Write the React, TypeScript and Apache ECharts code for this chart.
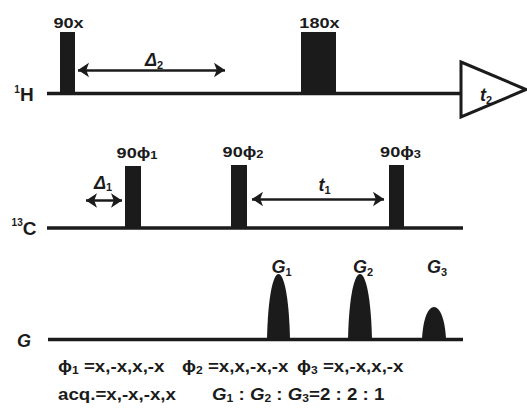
import React, { useEffect, useRef } from 'react';
import * as echarts from 'echarts';

// ---- data (time along x, level along y, in the diagram's own units) ----
const channelNames = ['{p|1}{b|H}', '{p|13}{b|C}', '{i|G}'];
const channelLevel = [93.5, 228, 339.5];
const channelStart = [47, 47, 48];
const channelEnd = [461, 463, 463];

const pulseChannel = [0, 0, 1, 1, 1];
const pulseStart = [60, 301, 125, 231, 389];
const pulseEnd = [75, 336, 141, 247, 404];
const pulseTop = [32, 32, 166, 165, 165];
const pulseLabels = ['{b|90x}', '{b|180x}', '{b|90ϕ}{s|1}', '{b|90ϕ}{s|2}', '{b|90ϕ}{s|3}'];

const gradStart = [267, 348, 422];
const gradEnd = [290, 372, 446];
const gradPeak = [274, 274, 307];
const gradLabels = ['{i|G}{s|1}', '{i|G}{s|2}', '{i|G}{s|3}'];

const delayFrom = [78, 86, 252];
const delayTo = [225, 122, 384];
const delayLevel = [70, 200.5, 199];
const delayLabels = ['{i|Δ}{s|2}', '{i|Δ}{s|1}', '{i|t}{s|1}'];

const acqStart = 461;
const acqEnd = 526;
const acqTop = 62;
const acqBottom = 117;
const acqLabel = '{i|t}{s|2}';

const phaseTexts = [
  '{b|ϕ}{s|1}{b| =x,-x,x,-x}',
  '{b|ϕ}{s|2}{b| =x,x,-x,-x}',
  '{b|ϕ}{s|3}{b| =x,-x,x,-x}',
  '{b|acq.=x,-x,-x,x}',
  '{i|G}{s|1}{b| : }{i|G}{s|2}{b| : }{i|G}{s|3}{b|=2 : 2 : 1}',
];
const phaseX = [58, 182, 297, 58, 212];
const phaseY = [366, 366, 366, 394, 394];

const INK = '#1b1b1b';
const FONT = '"Liberation Sans", Arial, Helvetica, sans-serif';

function rich(size: number, subRatio: number) {
  const sub = Math.round(size * subRatio);
  return {
    b: { fontSize: size, fontWeight: 'bold', fontFamily: FONT, fill: INK, color: INK, lineHeight: size + 2 },
    i: { fontSize: size, fontWeight: 'bold', fontStyle: 'italic', fontFamily: FONT, fill: INK, color: INK, lineHeight: size + 2 },
    s: { fontSize: sub, fontWeight: 'bold', fontFamily: FONT, fill: INK, color: INK, lineHeight: sub, verticalAlign: 'bottom' },
    p: { fontSize: sub, fontWeight: 'bold', fontFamily: FONT, fill: INK, color: INK, lineHeight: sub, verticalAlign: 'top' },
  };
}

function textEl(x: number, y: number, text: string, size: number, align: string, sx: number, subRatio = 0.62) {
  return {
    type: 'text',
    x,
    y,
    scaleX: sx,
    style: {
      text,
      rich: rich(size, subRatio),
      align,
      verticalAlign: 'middle',
      fill: INK,
      font: `bold ${size}px ${FONT}`,
    },
  };
}

// label nudges relative to the marks they annotate (layout only)
const channelLabelSize = [19, 19, 18];
const channelLabelDy = [1, 0, 1.5];
const delayLabelDx = [2.5, -1, 6.5];
const delayLabelDy = [-10, -18, -14];

export default function App() {
  const ref = useRef<HTMLDivElement>(null);
  useEffect(() => {
    if (!ref.current) return;
    const chart = echarts.init(ref.current, undefined, { renderer: 'svg' });
    const option: any = {
      animation: false,
      backgroundColor: '#ffffff',
      grid: { left: 0, right: 0, top: 0, bottom: 0 },
      xAxis: { type: 'value', min: 0, max: 527, show: false },
      yAxis: { type: 'value', min: 0, max: 409, inverse: true, show: false },
      series: [
        {
          type: 'custom',
          name: 'channels',
          clip: false,
          data: channelLevel.map((l, i) => [channelStart[i], l, channelEnd[i]]),
          renderItem: (params: any, api: any) => {
            const i = params.dataIndex;
            const a = api.coord([api.value(0), api.value(1)]);
            const b = api.coord([api.value(2), api.value(1)]);
            return {
              type: 'group',
              children: [
                { type: 'line', shape: { x1: a[0], y1: a[1], x2: b[0], y2: b[1] }, style: { stroke: INK, lineWidth: 3.6 } },
                textEl(24, a[1] + channelLabelDy[i], channelNames[i], channelLabelSize[i], 'center', 1, 0.55),
              ],
            };
          },
        },
        {
          type: 'custom',
          name: 'pulses',
          clip: false,
          data: pulseStart.map((s, i) => [s, pulseTop[i], pulseEnd[i], channelLevel[pulseChannel[i]]]),
          renderItem: (params: any, api: any) => {
            const tl = api.coord([api.value(0), api.value(1)]);
            const br = api.coord([api.value(2), api.value(3)]);
            const cx = (tl[0] + br[0]) / 2;
            const hasSub = params.dataIndex >= 2;
            return {
              type: 'group',
              children: [
                { type: 'rect', shape: { x: tl[0], y: tl[1], width: br[0] - tl[0], height: br[1] - tl[1] }, style: { fill: INK } },
                textEl(cx + (hasSub ? 4 : 1), tl[1] - (hasSub ? 13.5 : 9.5), pulseLabels[params.dataIndex], 15.5, 'center', 1.17, 0.68),
              ],
            };
          },
        },
        {
          type: 'custom',
          name: 'gradients',
          clip: false,
          data: gradStart.map((s, i) => [s, gradPeak[i], gradEnd[i], channelLevel[2]]),
          renderItem: (params: any, api: any) => {
            const p0 = api.coord([api.value(0), api.value(3)]);
            const p1 = api.coord([api.value(2), api.value(3)]);
            const pk = api.coord([api.value(0), api.value(1)]);
            const w = p1[0] - p0[0];
            const cy = p0[1] - (p0[1] - pk[1]) * 4 / 3;
            const d = `M${p0[0]},${p0[1]} C${p0[0] + 0.08 * w},${cy} ${p1[0] - 0.08 * w},${cy} ${p1[0]},${p1[1]} Z`;
            return {
              type: 'group',
              children: [
                { type: 'path', shape: { pathData: d }, style: { fill: INK } },
                textEl(p0[0] + w / 2 + 3, 267, gradLabels[params.dataIndex], 18, 'center', 1),
              ],
            };
          },
        },
        {
          type: 'lines',
          name: 'delays',
          coordinateSystem: 'cartesian2d',
          symbol: ['arrow', 'arrow'],
          symbolSize: 11,
          lineStyle: { color: INK, width: 2.6, opacity: 1 },
          data: delayFrom.map((f, i) => ({ coords: [[f, delayLevel[i]], [delayTo[i], delayLevel[i]]] })),
          silent: true,
        },
        {
          type: 'custom',
          name: 'delayLabels',
          clip: false,
          data: delayFrom.map((f, i) => [(f + delayTo[i]) / 2, delayLevel[i]]),
          renderItem: (params: any, api: any) => {
            const i = params.dataIndex;
            const c = api.coord([api.value(0), api.value(1)]);
            return textEl(c[0] + delayLabelDx[i], c[1] + delayLabelDy[i], delayLabels[i], 18, 'center', 1);
          },
        },
        {
          type: 'custom',
          name: 'acquisition',
          clip: false,
          data: [[acqStart, acqTop, acqEnd, acqBottom]],
          renderItem: (params: any, api: any) => {
            const a = api.coord([api.value(0), api.value(1)]);
            const b = api.coord([api.value(2), api.value(3)]);
            const my = (a[1] + b[1]) / 2;
            return {
              type: 'group',
              children: [
                {
                  type: 'polygon',
                  shape: { points: [[a[0], a[1]], [b[0], my], [a[0], b[1]]] },
                  style: { fill: '#ffffff', stroke: INK, lineWidth: 3, lineJoin: 'miter' },
                },
                textEl(a[0] + 25, my + 5.5, acqLabel, 18, 'center', 1),
              ],
            };
          },
        },
        {
          type: 'custom',
          name: 'phases',
          clip: false,
          data: phaseX.map((x, i) => [x, phaseY[i]]),
          renderItem: (params: any, api: any) => {
            const c = api.coord([api.value(0), api.value(1)]);
            return textEl(c[0], c[1], phaseTexts[params.dataIndex], 17, 'left', 1.1);
          },
        },
      ],
    };
    chart.setOption(option);
    return () => chart.dispose();
  }, []);
  return (
    <div
      ref={ref}
      style={{ position: 'fixed', left: 0, top: 0, width: 527, height: 409, background: '#fff' }}
    />
  );
}
